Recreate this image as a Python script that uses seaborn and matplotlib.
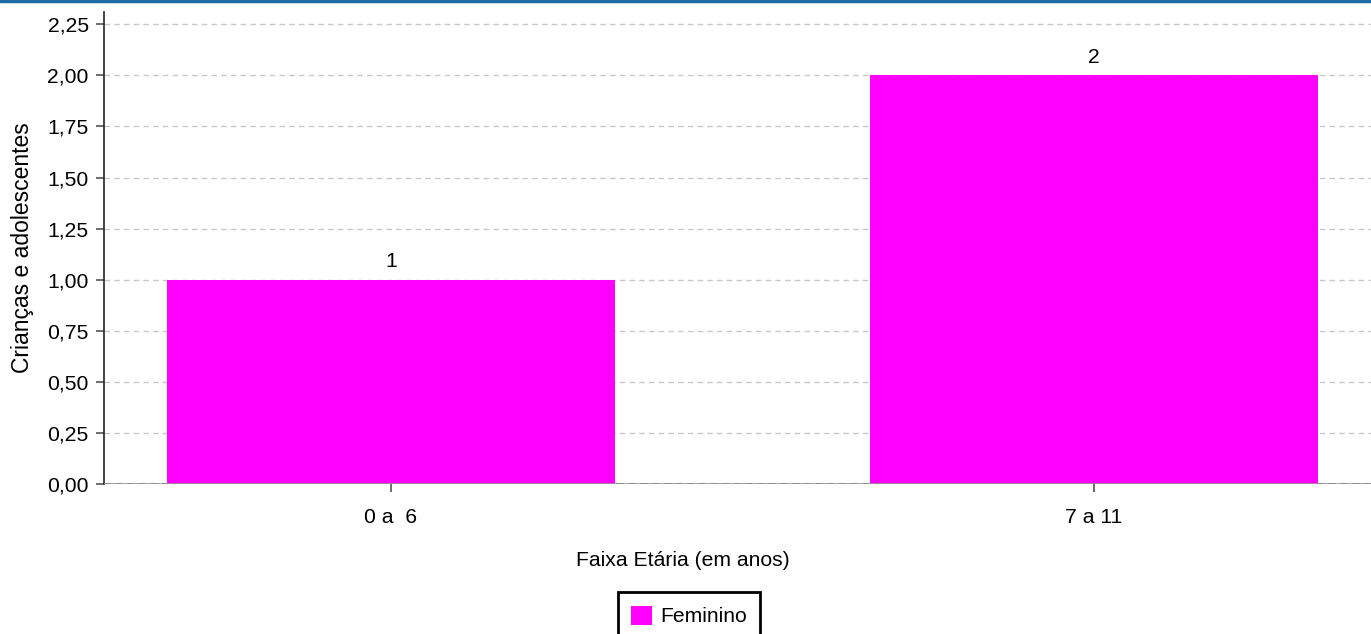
import matplotlib
matplotlib.use('Agg')
import matplotlib.pyplot as plt
import seaborn as sns
import pandas as pd
from matplotlib.lines import Line2D

# dados do grafico
faixas = ['0 a  6', '7 a 11']
valores = [1, 2]
serie = 'Feminino'
yticks = [0, 0.25, 0.5, 0.75, 1.0, 1.25, 1.5, 1.75, 2.0, 2.25]

df = pd.DataFrame({'faixa': faixas, 'valor': valores})

sns.set_style('white')
plt.rcParams['font.family'] = ['Liberation Sans', 'DejaVu Sans']
plt.rcParams['text.color'] = '#000000'
plt.rcParams['xtick.labelcolor'] = '#000000'
plt.rcParams['ytick.labelcolor'] = '#000000'

FS = 15.2

fig = plt.figure(figsize=(13.71, 6.34), dpi=100)
ax = fig.add_axes([104 / 1371, 1 - 484 / 634, (1371 - 104) / 1371, (484 - 12) / 634])

sns.barplot(data=df, x='faixa', y='valor', color='#ff00ff', saturation=1,
            width=0.637, ax=ax, zorder=3)
for p in ax.patches:
    p.set_edgecolor('none')

ax.set_xlim(-0.408, 1.394)
ax.set_ylim(0, 2.31)
ax.set_yticks(yticks)
ax.set_yticklabels([f'{t:.2f}'.replace('.', ',') for t in yticks])
ax.yaxis.grid(True, linestyle=(0, (4, 3)), color='#c8c8c8', linewidth=1, zorder=0)
ax.set_axisbelow(True)

for s in ['top', 'right', 'bottom']:
    ax.spines[s].set_visible(False)
ax.spines['left'].set_color('#222222')
ax.spines['left'].set_linewidth(1.2)

# linha de base
ax.axhline(0, color='#999999', linewidth=1.2, zorder=4)
ax.axhline(0, color='#333333', linewidth=1.2, linestyle=(0, (4, 3)), zorder=2)

ax.tick_params(axis='y', length=6, width=1.2, color='#555555', labelsize=FS, pad=5, left=True)
ax.tick_params(axis='x', length=6, width=1.2, color='#555555', labelsize=FS, pad=11, bottom=True)
ax.set_xlabel('')
ax.set_ylabel('')

for p, v in zip(ax.patches, valores):
    ax.text(p.get_x() + p.get_width() / 2, v + 0.04, str(v),
            ha='center', va='bottom', fontsize=FS)

fig.text(22 / 1371, 1 - 248 / 634, 'Crianças e adolescentes', rotation=90,
         ha='center', va='center', fontsize=16.5)
fig.text(683 / 1371, 1 - 561 / 634, 'Faixa Etária (em anos)',
         ha='center', va='center', fontsize=FS)

handle = plt.Rectangle((0, 0), 1, 1, facecolor='#ff00ff', edgecolor='none')
leg = fig.legend([handle], [serie], loc='upper center', bbox_to_anchor=(689 / 1371, 1 - 592 / 634),
                 fontsize=FS, frameon=True, fancybox=False, framealpha=1,
                 handlelength=1.0, handleheight=1.0,
                 handletextpad=0.35, borderpad=0.65, borderaxespad=0)
leg.get_frame().set_edgecolor('#000000')
leg.get_frame().set_linewidth(2)

# faixa azul no topo
fig.add_artist(Line2D([0, 1], [0.998, 0.998], transform=fig.transFigure,
                      color='#1f6aa5', linewidth=2.5))

fig.savefig('out.png', dpi=100)
